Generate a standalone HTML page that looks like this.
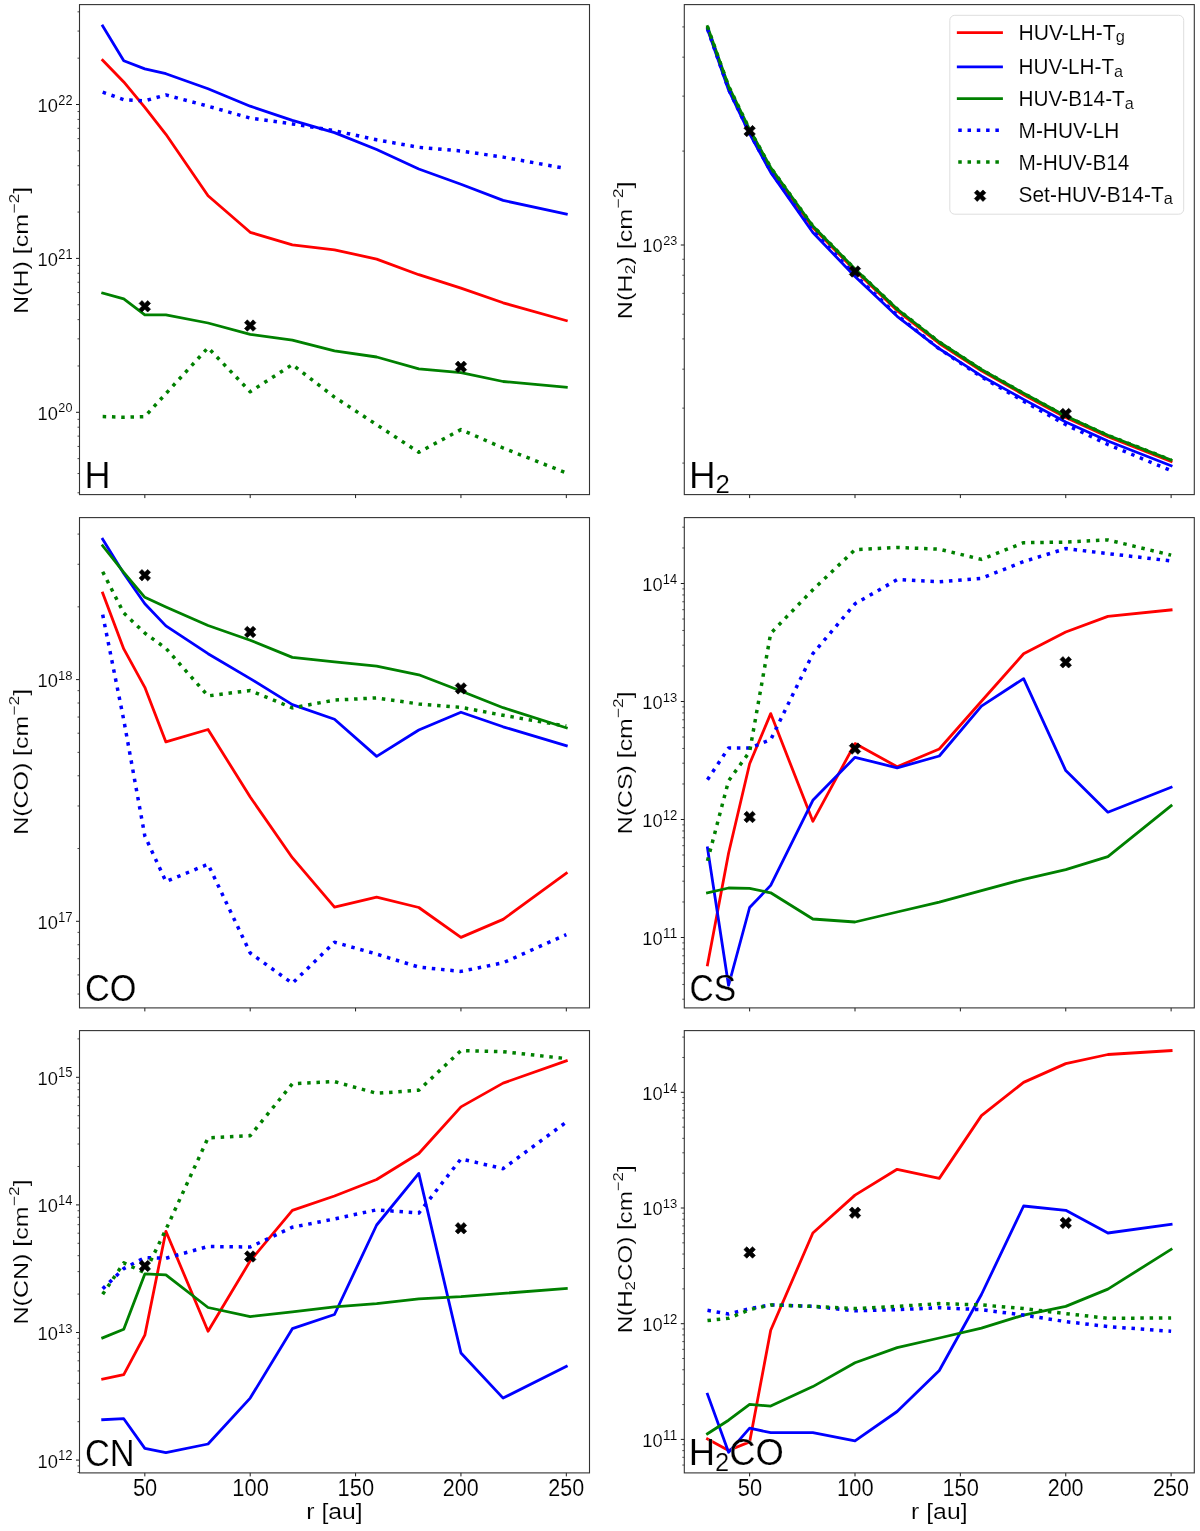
<!DOCTYPE html>
<html><head><meta charset="utf-8"><title>Column densities</title>
<style>html,body{margin:0;padding:0;background:#fff;} svg{display:block;will-change:transform;} text{font-family:"Liberation Sans", sans-serif; fill:#000; stroke:#fff; stroke-width:0.6px;}</style>
</head><body>
<svg width="1200" height="1531" viewBox="0 0 1200 1531">
<rect x="0" y="0" width="1200" height="1531" fill="#fff"/>
<clipPath id="clip_H"><rect x="79.5" y="4.6" width="510" height="490"/></clipPath>
<g clip-path="url(#clip_H)">
<polyline points="102.68,60.2 123.76,81.9 144.83,107.3 165.9,134.3 208.05,195.7 250.2,232.3 292.35,244.9 334.5,249.8 376.65,259.1 418.8,274.7 460.95,288.1 503.1,302.8 566.32,320.6" fill="none" stroke="#ff0000" stroke-width="2.8" stroke-linecap="square" stroke-linejoin="round"/>
<polyline points="102.68,26 123.76,60.7 144.83,68.9 165.9,73.7 208.05,88.8 250.2,106.2 292.35,120.3 334.5,132.6 376.65,149.5 418.8,169 460.95,184.2 503.1,200.4 566.32,214.1" fill="none" stroke="#0000ff" stroke-width="2.8" stroke-linecap="square" stroke-linejoin="round"/>
<polyline points="102.68,293.1 123.76,298.9 144.83,314.8 165.9,314.8 208.05,323 250.2,334.3 292.35,340.1 334.5,350.9 376.65,357 418.8,368.9 460.95,372.6 503.1,381.5 566.32,387.3" fill="none" stroke="#008000" stroke-width="2.8" stroke-linecap="square" stroke-linejoin="round"/>
<polyline points="102.68,92.1 123.76,99.7 144.83,100.8 165.9,94.9 208.05,106.2 250.2,118.1 292.35,123.9 334.5,130.7 376.65,139.8 418.8,147.3 460.95,151 503.1,157.1 566.32,168.6" fill="none" stroke="#0000ff" stroke-width="3.5" stroke-dasharray="3.5 5.78" stroke-linecap="butt" stroke-linejoin="round"/>
<polyline points="102.68,416.6 123.76,417.2 144.83,416.6 165.9,393.6 208.05,347.7 250.2,391.7 292.35,364.6 334.5,397.1 376.65,424.7 418.8,452.3 460.95,429.6 503.1,448 566.32,472.9" fill="none" stroke="#008000" stroke-width="3.5" stroke-dasharray="3.5 5.78" stroke-linecap="butt" stroke-linejoin="round"/>
<path d="M141.96,300.55 L144.83,303.43 L147.71,300.55 L150.58,303.43 L147.71,306.3 L150.58,309.18 L147.71,312.05 L144.83,309.18 L141.96,312.05 L139.08,309.18 L141.96,306.3 L139.08,303.43Z" fill="#000" stroke="#000" stroke-width="0.6" stroke-linejoin="miter"/>
<path d="M247.33,319.85 L250.2,322.73 L253.08,319.85 L255.95,322.73 L253.08,325.6 L255.95,328.48 L253.08,331.35 L250.2,328.48 L247.33,331.35 L244.45,328.48 L247.33,325.6 L244.45,322.73Z" fill="#000" stroke="#000" stroke-width="0.6" stroke-linejoin="miter"/>
<path d="M458.07,361.05 L460.95,363.93 L463.82,361.05 L466.7,363.93 L463.82,366.8 L466.7,369.68 L463.82,372.55 L460.95,369.68 L458.07,372.55 L455.2,369.68 L458.07,366.8 L455.2,363.93Z" fill="#000" stroke="#000" stroke-width="0.6" stroke-linejoin="miter"/>
</g>
<line x1="77.5" y1="492.77" x2="79.5" y2="492.77" stroke="#000" stroke-width="0.7"/>
<line x1="77.5" y1="473.54" x2="79.5" y2="473.54" stroke="#000" stroke-width="0.7"/>
<line x1="77.5" y1="458.63" x2="79.5" y2="458.63" stroke="#000" stroke-width="0.7"/>
<line x1="77.5" y1="446.44" x2="79.5" y2="446.44" stroke="#000" stroke-width="0.7"/>
<line x1="77.5" y1="436.14" x2="79.5" y2="436.14" stroke="#000" stroke-width="0.7"/>
<line x1="77.5" y1="427.21" x2="79.5" y2="427.21" stroke="#000" stroke-width="0.7"/>
<line x1="77.5" y1="419.34" x2="79.5" y2="419.34" stroke="#000" stroke-width="0.7"/>
<line x1="76" y1="412.3" x2="79.5" y2="412.3" stroke="#000" stroke-width="0.9"/>
<line x1="77.5" y1="365.97" x2="79.5" y2="365.97" stroke="#000" stroke-width="0.7"/>
<line x1="77.5" y1="338.87" x2="79.5" y2="338.87" stroke="#000" stroke-width="0.7"/>
<line x1="77.5" y1="319.64" x2="79.5" y2="319.64" stroke="#000" stroke-width="0.7"/>
<line x1="77.5" y1="304.73" x2="79.5" y2="304.73" stroke="#000" stroke-width="0.7"/>
<line x1="77.5" y1="292.54" x2="79.5" y2="292.54" stroke="#000" stroke-width="0.7"/>
<line x1="77.5" y1="282.24" x2="79.5" y2="282.24" stroke="#000" stroke-width="0.7"/>
<line x1="77.5" y1="273.31" x2="79.5" y2="273.31" stroke="#000" stroke-width="0.7"/>
<line x1="77.5" y1="265.44" x2="79.5" y2="265.44" stroke="#000" stroke-width="0.7"/>
<line x1="76" y1="258.4" x2="79.5" y2="258.4" stroke="#000" stroke-width="0.9"/>
<line x1="77.5" y1="212.07" x2="79.5" y2="212.07" stroke="#000" stroke-width="0.7"/>
<line x1="77.5" y1="184.97" x2="79.5" y2="184.97" stroke="#000" stroke-width="0.7"/>
<line x1="77.5" y1="165.74" x2="79.5" y2="165.74" stroke="#000" stroke-width="0.7"/>
<line x1="77.5" y1="150.83" x2="79.5" y2="150.83" stroke="#000" stroke-width="0.7"/>
<line x1="77.5" y1="138.64" x2="79.5" y2="138.64" stroke="#000" stroke-width="0.7"/>
<line x1="77.5" y1="128.34" x2="79.5" y2="128.34" stroke="#000" stroke-width="0.7"/>
<line x1="77.5" y1="119.41" x2="79.5" y2="119.41" stroke="#000" stroke-width="0.7"/>
<line x1="77.5" y1="111.54" x2="79.5" y2="111.54" stroke="#000" stroke-width="0.7"/>
<line x1="76" y1="104.5" x2="79.5" y2="104.5" stroke="#000" stroke-width="0.9"/>
<line x1="77.5" y1="58.17" x2="79.5" y2="58.17" stroke="#000" stroke-width="0.7"/>
<line x1="77.5" y1="31.07" x2="79.5" y2="31.07" stroke="#000" stroke-width="0.7"/>
<line x1="77.5" y1="11.84" x2="79.5" y2="11.84" stroke="#000" stroke-width="0.7"/>
<line x1="144.83" y1="494.6" x2="144.83" y2="498.1" stroke="#000" stroke-width="0.9"/>
<line x1="250.2" y1="494.6" x2="250.2" y2="498.1" stroke="#000" stroke-width="0.9"/>
<line x1="355.57" y1="494.6" x2="355.57" y2="498.1" stroke="#000" stroke-width="0.9"/>
<line x1="460.95" y1="494.6" x2="460.95" y2="498.1" stroke="#000" stroke-width="0.9"/>
<line x1="566.32" y1="494.6" x2="566.32" y2="498.1" stroke="#000" stroke-width="0.9"/>
<rect x="79.5" y="4.6" width="510" height="490" fill="none" stroke="#333" stroke-width="1.1"/>
<clipPath id="clip_H2"><rect x="684.3" y="4.6" width="510" height="490"/></clipPath>
<g clip-path="url(#clip_H2)">
<polyline points="707.48,28.3 728.56,87.85 749.63,131.24 770.7,169.19 812.85,227.57 855,270.4 897.15,310.59 939.3,343.48 981.45,370.9 1023.6,394.67 1065.75,417.44 1107.9,436.71 1171.12,461.5" fill="none" stroke="#ff0000" stroke-width="2.8" stroke-linecap="square" stroke-linejoin="round"/>
<polyline points="707.48,29.2 728.56,89.96 749.63,133.85 770.7,172.4 812.85,232.57 855,276.44 897.15,316.28 939.3,348.77 981.45,375.94 1023.6,399.36 1065.75,422.02 1107.9,441.05 1171.12,465.69" fill="none" stroke="#0000ff" stroke-width="2.8" stroke-linecap="square" stroke-linejoin="round"/>
<polyline points="707.48,26.5 728.56,86 749.63,129.5 770.7,167.5 812.85,226 855,269 897.15,309 939.3,342 981.45,369.5 1023.6,393.3 1065.75,416.1 1107.9,435.3 1171.12,460" fill="none" stroke="#008000" stroke-width="2.8" stroke-linecap="square" stroke-linejoin="round"/>
<polyline points="707.48,28.9 728.56,89.43 749.63,133.2 770.7,171.45 812.85,230.7 855,275.03 897.15,315.22 939.3,348.89 981.45,376.87 1023.6,401.3 1065.75,424.59 1107.9,444.53 1171.12,470.63" fill="none" stroke="#0000ff" stroke-width="3.5" stroke-dasharray="3.5 5.78" stroke-linecap="butt" stroke-linejoin="round"/>
<polyline points="707.48,26.5 728.56,86 749.63,129.5 770.7,167.5 812.85,226 855,269 897.15,309 939.3,342 981.45,369.5 1023.6,393.3 1065.75,416.1 1107.9,435.3 1171.12,460" fill="none" stroke="#008000" stroke-width="3.5" stroke-dasharray="3.5 5.78" stroke-linecap="butt" stroke-linejoin="round"/>
<path d="M746.76,125.35 L749.63,128.22 L752.51,125.35 L755.38,128.22 L752.51,131.1 L755.38,133.97 L752.51,136.85 L749.63,133.97 L746.76,136.85 L743.88,133.97 L746.76,131.1 L743.88,128.22Z" fill="#000" stroke="#000" stroke-width="0.6" stroke-linejoin="miter"/>
<path d="M852.13,265.75 L855,268.62 L857.88,265.75 L860.75,268.62 L857.88,271.5 L860.75,274.38 L857.88,277.25 L855,274.38 L852.13,277.25 L849.25,274.38 L852.13,271.5 L849.25,268.62Z" fill="#000" stroke="#000" stroke-width="0.6" stroke-linejoin="miter"/>
<path d="M1062.87,408.25 L1065.75,411.12 L1068.62,408.25 L1071.5,411.12 L1068.62,414 L1071.5,416.88 L1068.62,419.75 L1065.75,416.88 L1062.87,419.75 L1060,416.88 L1062.87,414 L1060,411.12Z" fill="#000" stroke="#000" stroke-width="0.6" stroke-linejoin="miter"/>
</g>
<line x1="682.3" y1="463.08" x2="684.3" y2="463.08" stroke="#000" stroke-width="0.7"/>
<line x1="682.3" y1="408.14" x2="684.3" y2="408.14" stroke="#000" stroke-width="0.7"/>
<line x1="682.3" y1="369.16" x2="684.3" y2="369.16" stroke="#000" stroke-width="0.7"/>
<line x1="682.3" y1="338.92" x2="684.3" y2="338.92" stroke="#000" stroke-width="0.7"/>
<line x1="682.3" y1="314.22" x2="684.3" y2="314.22" stroke="#000" stroke-width="0.7"/>
<line x1="682.3" y1="293.33" x2="684.3" y2="293.33" stroke="#000" stroke-width="0.7"/>
<line x1="682.3" y1="275.24" x2="684.3" y2="275.24" stroke="#000" stroke-width="0.7"/>
<line x1="682.3" y1="259.28" x2="684.3" y2="259.28" stroke="#000" stroke-width="0.7"/>
<line x1="680.8" y1="245" x2="684.3" y2="245" stroke="#000" stroke-width="0.9"/>
<line x1="682.3" y1="151.08" x2="684.3" y2="151.08" stroke="#000" stroke-width="0.7"/>
<line x1="682.3" y1="96.14" x2="684.3" y2="96.14" stroke="#000" stroke-width="0.7"/>
<line x1="682.3" y1="57.16" x2="684.3" y2="57.16" stroke="#000" stroke-width="0.7"/>
<line x1="682.3" y1="26.92" x2="684.3" y2="26.92" stroke="#000" stroke-width="0.7"/>
<line x1="749.63" y1="494.6" x2="749.63" y2="498.1" stroke="#000" stroke-width="0.9"/>
<line x1="855" y1="494.6" x2="855" y2="498.1" stroke="#000" stroke-width="0.9"/>
<line x1="960.37" y1="494.6" x2="960.37" y2="498.1" stroke="#000" stroke-width="0.9"/>
<line x1="1065.75" y1="494.6" x2="1065.75" y2="498.1" stroke="#000" stroke-width="0.9"/>
<line x1="1171.12" y1="494.6" x2="1171.12" y2="498.1" stroke="#000" stroke-width="0.9"/>
<rect x="684.3" y="4.6" width="510" height="490" fill="none" stroke="#333" stroke-width="1.1"/>
<clipPath id="clip_CO"><rect x="79.5" y="517.6" width="510" height="490.3"/></clipPath>
<g clip-path="url(#clip_CO)">
<polyline points="102.68,593 123.76,648.9 144.83,687.3 165.9,741.9 208.05,729.5 250.2,797 292.35,857.7 334.5,907.1 376.65,897.1 418.8,907.5 460.95,937.4 503.1,919.4 566.32,873.3" fill="none" stroke="#ff0000" stroke-width="2.8" stroke-linecap="square" stroke-linejoin="round"/>
<polyline points="102.68,539.3 123.76,573.5 144.83,603.8 165.9,625.9 208.05,653.7 250.2,678.6 292.35,704.6 334.5,719.2 376.65,756.4 418.8,730 460.95,712.2 503.1,726.8 566.32,745.8" fill="none" stroke="#0000ff" stroke-width="2.8" stroke-linecap="square" stroke-linejoin="round"/>
<polyline points="102.68,545.8 123.76,572.4 144.83,597.3 165.9,606.9 208.05,625.5 250.2,640.2 292.35,657.4 334.5,661.9 376.65,666.1 418.8,674.8 460.95,691 503.1,707.7 566.32,727.8" fill="none" stroke="#008000" stroke-width="2.8" stroke-linecap="square" stroke-linejoin="round"/>
<polyline points="102.68,614.7 123.76,720 144.83,836 165.9,881.5 208.05,864.2 250.2,953 292.35,983.3 334.5,942.2 376.65,954.1 418.8,967.1 460.95,971.4 503.1,962.8 566.32,934.6" fill="none" stroke="#0000ff" stroke-width="3.5" stroke-dasharray="3.5 5.78" stroke-linecap="butt" stroke-linejoin="round"/>
<polyline points="102.68,571.8 123.76,613 144.83,633.1 165.9,648.3 208.05,695.9 250.2,690.5 292.35,707.9 334.5,700.1 376.65,697.9 418.8,704 460.95,707.3 503.1,715.3 566.32,726.1" fill="none" stroke="#008000" stroke-width="3.5" stroke-dasharray="3.5 5.78" stroke-linecap="butt" stroke-linejoin="round"/>
<path d="M141.96,569.45 L144.83,572.33 L147.71,569.45 L150.58,572.33 L147.71,575.2 L150.58,578.08 L147.71,580.95 L144.83,578.08 L141.96,580.95 L139.08,578.08 L141.96,575.2 L139.08,572.33Z" fill="#000" stroke="#000" stroke-width="0.6" stroke-linejoin="miter"/>
<path d="M247.33,626.25 L250.2,629.12 L253.08,626.25 L255.95,629.12 L253.08,632 L255.95,634.88 L253.08,637.75 L250.2,634.88 L247.33,637.75 L244.45,634.88 L247.33,632 L244.45,629.12Z" fill="#000" stroke="#000" stroke-width="0.6" stroke-linejoin="miter"/>
<path d="M458.07,682.65 L460.95,685.52 L463.82,682.65 L466.7,685.52 L463.82,688.4 L466.7,691.27 L463.82,694.15 L460.95,691.27 L458.07,694.15 L455.2,691.27 L458.07,688.4 L455.2,685.52Z" fill="#000" stroke="#000" stroke-width="0.6" stroke-linejoin="miter"/>
</g>
<line x1="77.5" y1="994.06" x2="79.5" y2="994.06" stroke="#000" stroke-width="0.7"/>
<line x1="77.5" y1="974.92" x2="79.5" y2="974.92" stroke="#000" stroke-width="0.7"/>
<line x1="77.5" y1="958.74" x2="79.5" y2="958.74" stroke="#000" stroke-width="0.7"/>
<line x1="77.5" y1="944.72" x2="79.5" y2="944.72" stroke="#000" stroke-width="0.7"/>
<line x1="77.5" y1="932.36" x2="79.5" y2="932.36" stroke="#000" stroke-width="0.7"/>
<line x1="76" y1="921.3" x2="79.5" y2="921.3" stroke="#000" stroke-width="0.9"/>
<line x1="77.5" y1="848.54" x2="79.5" y2="848.54" stroke="#000" stroke-width="0.7"/>
<line x1="77.5" y1="805.98" x2="79.5" y2="805.98" stroke="#000" stroke-width="0.7"/>
<line x1="77.5" y1="775.78" x2="79.5" y2="775.78" stroke="#000" stroke-width="0.7"/>
<line x1="77.5" y1="752.36" x2="79.5" y2="752.36" stroke="#000" stroke-width="0.7"/>
<line x1="77.5" y1="733.22" x2="79.5" y2="733.22" stroke="#000" stroke-width="0.7"/>
<line x1="77.5" y1="717.04" x2="79.5" y2="717.04" stroke="#000" stroke-width="0.7"/>
<line x1="77.5" y1="703.02" x2="79.5" y2="703.02" stroke="#000" stroke-width="0.7"/>
<line x1="77.5" y1="690.66" x2="79.5" y2="690.66" stroke="#000" stroke-width="0.7"/>
<line x1="76" y1="679.6" x2="79.5" y2="679.6" stroke="#000" stroke-width="0.9"/>
<line x1="77.5" y1="606.84" x2="79.5" y2="606.84" stroke="#000" stroke-width="0.7"/>
<line x1="77.5" y1="564.28" x2="79.5" y2="564.28" stroke="#000" stroke-width="0.7"/>
<line x1="77.5" y1="534.08" x2="79.5" y2="534.08" stroke="#000" stroke-width="0.7"/>
<line x1="144.83" y1="1007.9" x2="144.83" y2="1011.4" stroke="#000" stroke-width="0.9"/>
<line x1="250.2" y1="1007.9" x2="250.2" y2="1011.4" stroke="#000" stroke-width="0.9"/>
<line x1="355.57" y1="1007.9" x2="355.57" y2="1011.4" stroke="#000" stroke-width="0.9"/>
<line x1="460.95" y1="1007.9" x2="460.95" y2="1011.4" stroke="#000" stroke-width="0.9"/>
<line x1="566.32" y1="1007.9" x2="566.32" y2="1011.4" stroke="#000" stroke-width="0.9"/>
<rect x="79.5" y="517.6" width="510" height="490.3" fill="none" stroke="#333" stroke-width="1.1"/>
<clipPath id="clip_CS"><rect x="684.3" y="517.6" width="510" height="490.3"/></clipPath>
<g clip-path="url(#clip_CS)">
<polyline points="707.48,964.9 728.56,853.3 749.63,763.7 770.7,713.6 812.85,821.3 855,743.6 897.15,766.7 939.3,749 981.45,701.3 1023.6,653.7 1065.75,632 1107.9,616.4 1171.12,609.9" fill="none" stroke="#ff0000" stroke-width="2.8" stroke-linecap="square" stroke-linejoin="round"/>
<polyline points="707.48,847.9 728.56,985.5 749.63,907.5 770.7,885.4 812.85,800.3 855,757.3 897.15,767.8 939.3,756 981.45,706.1 1023.6,678.6 1065.75,770.6 1107.9,812.2 1171.12,787.3" fill="none" stroke="#0000ff" stroke-width="2.8" stroke-linecap="square" stroke-linejoin="round"/>
<polyline points="707.48,892.8 728.56,888 749.63,888.4 770.7,892.8 812.85,919 855,922 897.15,912 939.3,902.1 981.45,890.6 1023.6,879.3 1065.75,869.6 1107.9,856.6 1171.12,805.7" fill="none" stroke="#008000" stroke-width="2.8" stroke-linecap="square" stroke-linejoin="round"/>
<polyline points="707.48,779.7 728.56,748 749.63,748 770.7,739.7 812.85,653.7 855,603.8 897.15,579.6 939.3,581.7 981.45,578.3 1023.6,561.6 1065.75,548.6 1107.9,553.6 1171.12,560.9" fill="none" stroke="#0000ff" stroke-width="3.5" stroke-dasharray="3.5 5.78" stroke-linecap="butt" stroke-linejoin="round"/>
<polyline points="707.48,860.9 728.56,780.8 749.63,751.7 770.7,633.3 812.85,589.8 855,549.7 897.15,547.5 939.3,549.2 981.45,559.4 1023.6,542.7 1065.75,542.1 1107.9,539.9 1171.12,555.1" fill="none" stroke="#008000" stroke-width="3.5" stroke-dasharray="3.5 5.78" stroke-linecap="butt" stroke-linejoin="round"/>
<path d="M746.76,811.25 L749.63,814.12 L752.51,811.25 L755.38,814.12 L752.51,817 L755.38,819.88 L752.51,822.75 L749.63,819.88 L746.76,822.75 L743.88,819.88 L746.76,817 L743.88,814.12Z" fill="#000" stroke="#000" stroke-width="0.6" stroke-linejoin="miter"/>
<path d="M852.13,742.85 L855,745.73 L857.88,742.85 L860.75,745.73 L857.88,748.6 L860.75,751.48 L857.88,754.35 L855,751.48 L852.13,754.35 L849.25,751.48 L852.13,748.6 L849.25,745.73Z" fill="#000" stroke="#000" stroke-width="0.6" stroke-linejoin="miter"/>
<path d="M1062.87,656.55 L1065.75,659.42 L1068.62,656.55 L1071.5,659.42 L1068.62,662.3 L1071.5,665.17 L1068.62,668.05 L1065.75,665.17 L1062.87,668.05 L1060,665.17 L1062.87,662.3 L1060,659.42Z" fill="#000" stroke="#000" stroke-width="0.6" stroke-linejoin="miter"/>
</g>
<line x1="682.3" y1="999.2" x2="684.3" y2="999.2" stroke="#000" stroke-width="0.7"/>
<line x1="682.3" y1="984.46" x2="684.3" y2="984.46" stroke="#000" stroke-width="0.7"/>
<line x1="682.3" y1="973.02" x2="684.3" y2="973.02" stroke="#000" stroke-width="0.7"/>
<line x1="682.3" y1="963.68" x2="684.3" y2="963.68" stroke="#000" stroke-width="0.7"/>
<line x1="682.3" y1="955.78" x2="684.3" y2="955.78" stroke="#000" stroke-width="0.7"/>
<line x1="682.3" y1="948.94" x2="684.3" y2="948.94" stroke="#000" stroke-width="0.7"/>
<line x1="682.3" y1="942.9" x2="684.3" y2="942.9" stroke="#000" stroke-width="0.7"/>
<line x1="680.8" y1="937.5" x2="684.3" y2="937.5" stroke="#000" stroke-width="0.9"/>
<line x1="682.3" y1="901.98" x2="684.3" y2="901.98" stroke="#000" stroke-width="0.7"/>
<line x1="682.3" y1="881.2" x2="684.3" y2="881.2" stroke="#000" stroke-width="0.7"/>
<line x1="682.3" y1="866.46" x2="684.3" y2="866.46" stroke="#000" stroke-width="0.7"/>
<line x1="682.3" y1="855.02" x2="684.3" y2="855.02" stroke="#000" stroke-width="0.7"/>
<line x1="682.3" y1="845.68" x2="684.3" y2="845.68" stroke="#000" stroke-width="0.7"/>
<line x1="682.3" y1="837.78" x2="684.3" y2="837.78" stroke="#000" stroke-width="0.7"/>
<line x1="682.3" y1="830.94" x2="684.3" y2="830.94" stroke="#000" stroke-width="0.7"/>
<line x1="682.3" y1="824.9" x2="684.3" y2="824.9" stroke="#000" stroke-width="0.7"/>
<line x1="680.8" y1="819.5" x2="684.3" y2="819.5" stroke="#000" stroke-width="0.9"/>
<line x1="682.3" y1="783.98" x2="684.3" y2="783.98" stroke="#000" stroke-width="0.7"/>
<line x1="682.3" y1="763.2" x2="684.3" y2="763.2" stroke="#000" stroke-width="0.7"/>
<line x1="682.3" y1="748.46" x2="684.3" y2="748.46" stroke="#000" stroke-width="0.7"/>
<line x1="682.3" y1="737.02" x2="684.3" y2="737.02" stroke="#000" stroke-width="0.7"/>
<line x1="682.3" y1="727.68" x2="684.3" y2="727.68" stroke="#000" stroke-width="0.7"/>
<line x1="682.3" y1="719.78" x2="684.3" y2="719.78" stroke="#000" stroke-width="0.7"/>
<line x1="682.3" y1="712.94" x2="684.3" y2="712.94" stroke="#000" stroke-width="0.7"/>
<line x1="682.3" y1="706.9" x2="684.3" y2="706.9" stroke="#000" stroke-width="0.7"/>
<line x1="680.8" y1="701.5" x2="684.3" y2="701.5" stroke="#000" stroke-width="0.9"/>
<line x1="682.3" y1="665.98" x2="684.3" y2="665.98" stroke="#000" stroke-width="0.7"/>
<line x1="682.3" y1="645.2" x2="684.3" y2="645.2" stroke="#000" stroke-width="0.7"/>
<line x1="682.3" y1="630.46" x2="684.3" y2="630.46" stroke="#000" stroke-width="0.7"/>
<line x1="682.3" y1="619.02" x2="684.3" y2="619.02" stroke="#000" stroke-width="0.7"/>
<line x1="682.3" y1="609.68" x2="684.3" y2="609.68" stroke="#000" stroke-width="0.7"/>
<line x1="682.3" y1="601.78" x2="684.3" y2="601.78" stroke="#000" stroke-width="0.7"/>
<line x1="682.3" y1="594.94" x2="684.3" y2="594.94" stroke="#000" stroke-width="0.7"/>
<line x1="682.3" y1="588.9" x2="684.3" y2="588.9" stroke="#000" stroke-width="0.7"/>
<line x1="680.8" y1="583.5" x2="684.3" y2="583.5" stroke="#000" stroke-width="0.9"/>
<line x1="682.3" y1="547.98" x2="684.3" y2="547.98" stroke="#000" stroke-width="0.7"/>
<line x1="682.3" y1="527.2" x2="684.3" y2="527.2" stroke="#000" stroke-width="0.7"/>
<line x1="749.63" y1="1007.9" x2="749.63" y2="1011.4" stroke="#000" stroke-width="0.9"/>
<line x1="855" y1="1007.9" x2="855" y2="1011.4" stroke="#000" stroke-width="0.9"/>
<line x1="960.37" y1="1007.9" x2="960.37" y2="1011.4" stroke="#000" stroke-width="0.9"/>
<line x1="1065.75" y1="1007.9" x2="1065.75" y2="1011.4" stroke="#000" stroke-width="0.9"/>
<line x1="1171.12" y1="1007.9" x2="1171.12" y2="1011.4" stroke="#000" stroke-width="0.9"/>
<rect x="684.3" y="517.6" width="510" height="490.3" fill="none" stroke="#333" stroke-width="1.1"/>
<clipPath id="clip_CN"><rect x="79.5" y="1030.6" width="510" height="442.3"/></clipPath>
<g clip-path="url(#clip_CN)">
<polyline points="102.68,1379 123.76,1374.7 144.83,1335.2 165.9,1231.3 208.05,1331.3 250.2,1260.9 292.35,1210.3 334.5,1196 376.65,1179.5 418.8,1153.5 460.95,1106.9 503.1,1083.1 566.32,1060.8" fill="none" stroke="#ff0000" stroke-width="2.8" stroke-linecap="square" stroke-linejoin="round"/>
<polyline points="102.68,1419.7 123.76,1418.7 144.83,1448.4 165.9,1452.7 208.05,1444 250.2,1398.1 292.35,1328.7 334.5,1314.5 376.65,1225 418.8,1173.4 460.95,1353 503.1,1398.1 566.32,1366.4" fill="none" stroke="#0000ff" stroke-width="2.8" stroke-linecap="square" stroke-linejoin="round"/>
<polyline points="102.68,1337.8 123.76,1329.2 144.83,1273.9 165.9,1274.8 208.05,1307.5 250.2,1316.6 292.35,1311.8 334.5,1306.8 376.65,1303.6 418.8,1298.8 460.95,1296.7 503.1,1293.4 566.32,1288.4" fill="none" stroke="#008000" stroke-width="2.8" stroke-linecap="square" stroke-linejoin="round"/>
<polyline points="102.68,1288.8 123.76,1268.6 144.83,1257.6 165.9,1258.3 208.05,1246.5 250.2,1247 292.35,1227.2 334.5,1219 376.65,1209.8 418.8,1213.1 460.95,1158.9 503.1,1168.7 566.32,1122.1" fill="none" stroke="#0000ff" stroke-width="3.5" stroke-dasharray="3.5 5.78" stroke-linecap="butt" stroke-linejoin="round"/>
<polyline points="102.68,1294.3 123.76,1262.9 144.83,1272.8 165.9,1229.5 208.05,1137.9 250.2,1135.7 292.35,1083.7 334.5,1081.6 376.65,1093.3 418.8,1090.2 460.95,1050.6 503.1,1051.7 566.32,1058.6" fill="none" stroke="#008000" stroke-width="3.5" stroke-dasharray="3.5 5.78" stroke-linecap="butt" stroke-linejoin="round"/>
<path d="M141.96,1260.25 L144.83,1263.12 L147.71,1260.25 L150.58,1263.12 L147.71,1266 L150.58,1268.88 L147.71,1271.75 L144.83,1268.88 L141.96,1271.75 L139.08,1268.88 L141.96,1266 L139.08,1263.12Z" fill="#000" stroke="#000" stroke-width="0.6" stroke-linejoin="miter"/>
<path d="M247.33,1250.75 L250.2,1253.62 L253.08,1250.75 L255.95,1253.62 L253.08,1256.5 L255.95,1259.38 L253.08,1262.25 L250.2,1259.38 L247.33,1262.25 L244.45,1259.38 L247.33,1256.5 L244.45,1253.62Z" fill="#000" stroke="#000" stroke-width="0.6" stroke-linejoin="miter"/>
<path d="M458.07,1222.55 L460.95,1225.42 L463.82,1222.55 L466.7,1225.42 L463.82,1228.3 L466.7,1231.17 L463.82,1234.05 L460.95,1231.17 L458.07,1234.05 L455.2,1231.17 L458.07,1228.3 L455.2,1225.42Z" fill="#000" stroke="#000" stroke-width="0.6" stroke-linejoin="miter"/>
</g>
<line x1="77.5" y1="1472.47" x2="79.5" y2="1472.47" stroke="#000" stroke-width="0.7"/>
<line x1="77.5" y1="1465.94" x2="79.5" y2="1465.94" stroke="#000" stroke-width="0.7"/>
<line x1="76" y1="1460.1" x2="79.5" y2="1460.1" stroke="#000" stroke-width="0.9"/>
<line x1="77.5" y1="1421.69" x2="79.5" y2="1421.69" stroke="#000" stroke-width="0.7"/>
<line x1="77.5" y1="1399.22" x2="79.5" y2="1399.22" stroke="#000" stroke-width="0.7"/>
<line x1="77.5" y1="1383.28" x2="79.5" y2="1383.28" stroke="#000" stroke-width="0.7"/>
<line x1="77.5" y1="1370.91" x2="79.5" y2="1370.91" stroke="#000" stroke-width="0.7"/>
<line x1="77.5" y1="1360.81" x2="79.5" y2="1360.81" stroke="#000" stroke-width="0.7"/>
<line x1="77.5" y1="1352.27" x2="79.5" y2="1352.27" stroke="#000" stroke-width="0.7"/>
<line x1="77.5" y1="1344.87" x2="79.5" y2="1344.87" stroke="#000" stroke-width="0.7"/>
<line x1="77.5" y1="1338.34" x2="79.5" y2="1338.34" stroke="#000" stroke-width="0.7"/>
<line x1="76" y1="1332.5" x2="79.5" y2="1332.5" stroke="#000" stroke-width="0.9"/>
<line x1="77.5" y1="1294.09" x2="79.5" y2="1294.09" stroke="#000" stroke-width="0.7"/>
<line x1="77.5" y1="1271.62" x2="79.5" y2="1271.62" stroke="#000" stroke-width="0.7"/>
<line x1="77.5" y1="1255.68" x2="79.5" y2="1255.68" stroke="#000" stroke-width="0.7"/>
<line x1="77.5" y1="1243.31" x2="79.5" y2="1243.31" stroke="#000" stroke-width="0.7"/>
<line x1="77.5" y1="1233.21" x2="79.5" y2="1233.21" stroke="#000" stroke-width="0.7"/>
<line x1="77.5" y1="1224.67" x2="79.5" y2="1224.67" stroke="#000" stroke-width="0.7"/>
<line x1="77.5" y1="1217.27" x2="79.5" y2="1217.27" stroke="#000" stroke-width="0.7"/>
<line x1="77.5" y1="1210.74" x2="79.5" y2="1210.74" stroke="#000" stroke-width="0.7"/>
<line x1="76" y1="1204.9" x2="79.5" y2="1204.9" stroke="#000" stroke-width="0.9"/>
<line x1="77.5" y1="1166.49" x2="79.5" y2="1166.49" stroke="#000" stroke-width="0.7"/>
<line x1="77.5" y1="1144.02" x2="79.5" y2="1144.02" stroke="#000" stroke-width="0.7"/>
<line x1="77.5" y1="1128.08" x2="79.5" y2="1128.08" stroke="#000" stroke-width="0.7"/>
<line x1="77.5" y1="1115.71" x2="79.5" y2="1115.71" stroke="#000" stroke-width="0.7"/>
<line x1="77.5" y1="1105.61" x2="79.5" y2="1105.61" stroke="#000" stroke-width="0.7"/>
<line x1="77.5" y1="1097.07" x2="79.5" y2="1097.07" stroke="#000" stroke-width="0.7"/>
<line x1="77.5" y1="1089.67" x2="79.5" y2="1089.67" stroke="#000" stroke-width="0.7"/>
<line x1="77.5" y1="1083.14" x2="79.5" y2="1083.14" stroke="#000" stroke-width="0.7"/>
<line x1="76" y1="1077.3" x2="79.5" y2="1077.3" stroke="#000" stroke-width="0.9"/>
<line x1="77.5" y1="1038.89" x2="79.5" y2="1038.89" stroke="#000" stroke-width="0.7"/>
<line x1="144.83" y1="1472.9" x2="144.83" y2="1476.4" stroke="#000" stroke-width="0.9"/>
<line x1="250.2" y1="1472.9" x2="250.2" y2="1476.4" stroke="#000" stroke-width="0.9"/>
<line x1="355.57" y1="1472.9" x2="355.57" y2="1476.4" stroke="#000" stroke-width="0.9"/>
<line x1="460.95" y1="1472.9" x2="460.95" y2="1476.4" stroke="#000" stroke-width="0.9"/>
<line x1="566.32" y1="1472.9" x2="566.32" y2="1476.4" stroke="#000" stroke-width="0.9"/>
<rect x="79.5" y="1030.6" width="510" height="442.3" fill="none" stroke="#333" stroke-width="1.1"/>
<clipPath id="clip_H2CO"><rect x="684.3" y="1030.6" width="510" height="442.3"/></clipPath>
<g clip-path="url(#clip_H2CO)">
<polyline points="707.48,1439 728.56,1450.5 749.63,1441.9 770.7,1330.3 812.85,1233 855,1195.1 897.15,1169.3 939.3,1178.4 981.45,1115.6 1023.6,1082.4 1065.75,1063.6 1107.9,1054.5 1171.12,1050.6" fill="none" stroke="#ff0000" stroke-width="2.8" stroke-linecap="square" stroke-linejoin="round"/>
<polyline points="707.48,1394.2 728.56,1452.3 749.63,1428.2 770.7,1432.7 812.85,1432.7 855,1440.8 897.15,1411.5 939.3,1370.5 981.45,1294.5 1023.6,1206 1065.75,1210.3 1107.9,1233 1171.12,1224.4" fill="none" stroke="#0000ff" stroke-width="2.8" stroke-linecap="square" stroke-linejoin="round"/>
<polyline points="707.48,1433.8 728.56,1420.2 749.63,1404.4 770.7,1406.1 812.85,1386.6 855,1362.8 897.15,1347.6 939.3,1338 981.45,1328.1 1023.6,1315.1 1065.75,1306.4 1107.9,1289.1 1171.12,1249.4" fill="none" stroke="#008000" stroke-width="2.8" stroke-linecap="square" stroke-linejoin="round"/>
<polyline points="707.48,1310.3 728.56,1314 749.63,1308.6 770.7,1304.9 812.85,1306.4 855,1310.8 897.15,1309.7 939.3,1307.7 981.45,1309.7 1023.6,1315.1 1065.75,1321.6 1107.9,1326.6 1171.12,1331.3" fill="none" stroke="#0000ff" stroke-width="3.5" stroke-dasharray="3.5 5.78" stroke-linecap="butt" stroke-linejoin="round"/>
<polyline points="707.48,1320.5 728.56,1318.3 749.63,1309.7 770.7,1304.9 812.85,1306.4 855,1308.6 897.15,1306.4 939.3,1303.6 981.45,1304.9 1023.6,1308.6 1065.75,1313.6 1107.9,1318.3 1171.12,1317.9" fill="none" stroke="#008000" stroke-width="3.5" stroke-dasharray="3.5 5.78" stroke-linecap="butt" stroke-linejoin="round"/>
<path d="M746.76,1246.75 L749.63,1249.62 L752.51,1246.75 L755.38,1249.62 L752.51,1252.5 L755.38,1255.38 L752.51,1258.25 L749.63,1255.38 L746.76,1258.25 L743.88,1255.38 L746.76,1252.5 L743.88,1249.62Z" fill="#000" stroke="#000" stroke-width="0.6" stroke-linejoin="miter"/>
<path d="M852.13,1206.95 L855,1209.83 L857.88,1206.95 L860.75,1209.83 L857.88,1212.7 L860.75,1215.58 L857.88,1218.45 L855,1215.58 L852.13,1218.45 L849.25,1215.58 L852.13,1212.7 L849.25,1209.83Z" fill="#000" stroke="#000" stroke-width="0.6" stroke-linejoin="miter"/>
<path d="M1062.87,1217.15 L1065.75,1220.03 L1068.62,1217.15 L1071.5,1220.03 L1068.62,1222.9 L1071.5,1225.78 L1068.62,1228.65 L1065.75,1225.78 L1062.87,1228.65 L1060,1225.78 L1062.87,1222.9 L1060,1220.03Z" fill="#000" stroke="#000" stroke-width="0.6" stroke-linejoin="miter"/>
</g>
<line x1="682.3" y1="1465.07" x2="684.3" y2="1465.07" stroke="#000" stroke-width="0.7"/>
<line x1="682.3" y1="1457.32" x2="684.3" y2="1457.32" stroke="#000" stroke-width="0.7"/>
<line x1="682.3" y1="1450.61" x2="684.3" y2="1450.61" stroke="#000" stroke-width="0.7"/>
<line x1="682.3" y1="1444.69" x2="684.3" y2="1444.69" stroke="#000" stroke-width="0.7"/>
<line x1="680.8" y1="1439.4" x2="684.3" y2="1439.4" stroke="#000" stroke-width="0.9"/>
<line x1="682.3" y1="1404.57" x2="684.3" y2="1404.57" stroke="#000" stroke-width="0.7"/>
<line x1="682.3" y1="1384.2" x2="684.3" y2="1384.2" stroke="#000" stroke-width="0.7"/>
<line x1="682.3" y1="1369.74" x2="684.3" y2="1369.74" stroke="#000" stroke-width="0.7"/>
<line x1="682.3" y1="1358.53" x2="684.3" y2="1358.53" stroke="#000" stroke-width="0.7"/>
<line x1="682.3" y1="1349.37" x2="684.3" y2="1349.37" stroke="#000" stroke-width="0.7"/>
<line x1="682.3" y1="1341.62" x2="684.3" y2="1341.62" stroke="#000" stroke-width="0.7"/>
<line x1="682.3" y1="1334.91" x2="684.3" y2="1334.91" stroke="#000" stroke-width="0.7"/>
<line x1="682.3" y1="1328.99" x2="684.3" y2="1328.99" stroke="#000" stroke-width="0.7"/>
<line x1="680.8" y1="1323.7" x2="684.3" y2="1323.7" stroke="#000" stroke-width="0.9"/>
<line x1="682.3" y1="1288.87" x2="684.3" y2="1288.87" stroke="#000" stroke-width="0.7"/>
<line x1="682.3" y1="1268.5" x2="684.3" y2="1268.5" stroke="#000" stroke-width="0.7"/>
<line x1="682.3" y1="1254.04" x2="684.3" y2="1254.04" stroke="#000" stroke-width="0.7"/>
<line x1="682.3" y1="1242.83" x2="684.3" y2="1242.83" stroke="#000" stroke-width="0.7"/>
<line x1="682.3" y1="1233.67" x2="684.3" y2="1233.67" stroke="#000" stroke-width="0.7"/>
<line x1="682.3" y1="1225.92" x2="684.3" y2="1225.92" stroke="#000" stroke-width="0.7"/>
<line x1="682.3" y1="1219.21" x2="684.3" y2="1219.21" stroke="#000" stroke-width="0.7"/>
<line x1="682.3" y1="1213.29" x2="684.3" y2="1213.29" stroke="#000" stroke-width="0.7"/>
<line x1="680.8" y1="1208" x2="684.3" y2="1208" stroke="#000" stroke-width="0.9"/>
<line x1="682.3" y1="1173.17" x2="684.3" y2="1173.17" stroke="#000" stroke-width="0.7"/>
<line x1="682.3" y1="1152.8" x2="684.3" y2="1152.8" stroke="#000" stroke-width="0.7"/>
<line x1="682.3" y1="1138.34" x2="684.3" y2="1138.34" stroke="#000" stroke-width="0.7"/>
<line x1="682.3" y1="1127.13" x2="684.3" y2="1127.13" stroke="#000" stroke-width="0.7"/>
<line x1="682.3" y1="1117.97" x2="684.3" y2="1117.97" stroke="#000" stroke-width="0.7"/>
<line x1="682.3" y1="1110.22" x2="684.3" y2="1110.22" stroke="#000" stroke-width="0.7"/>
<line x1="682.3" y1="1103.51" x2="684.3" y2="1103.51" stroke="#000" stroke-width="0.7"/>
<line x1="682.3" y1="1097.59" x2="684.3" y2="1097.59" stroke="#000" stroke-width="0.7"/>
<line x1="680.8" y1="1092.3" x2="684.3" y2="1092.3" stroke="#000" stroke-width="0.9"/>
<line x1="682.3" y1="1057.47" x2="684.3" y2="1057.47" stroke="#000" stroke-width="0.7"/>
<line x1="682.3" y1="1037.1" x2="684.3" y2="1037.1" stroke="#000" stroke-width="0.7"/>
<line x1="749.63" y1="1472.9" x2="749.63" y2="1476.4" stroke="#000" stroke-width="0.9"/>
<line x1="855" y1="1472.9" x2="855" y2="1476.4" stroke="#000" stroke-width="0.9"/>
<line x1="960.37" y1="1472.9" x2="960.37" y2="1476.4" stroke="#000" stroke-width="0.9"/>
<line x1="1065.75" y1="1472.9" x2="1065.75" y2="1476.4" stroke="#000" stroke-width="0.9"/>
<line x1="1171.12" y1="1472.9" x2="1171.12" y2="1476.4" stroke="#000" stroke-width="0.9"/>
<rect x="684.3" y="1030.6" width="510" height="442.3" fill="none" stroke="#333" stroke-width="1.1"/>
<rect x="949.8" y="15.3" width="233.9" height="198.9" rx="5" ry="5" fill="#fff" fill-opacity="0.8" stroke="#dedede" stroke-width="1"/>
<line x1="958.25" y1="32.6" x2="1001.5" y2="32.6" stroke="#ff0000" stroke-width="2.8" stroke-linecap="square"/>
<line x1="958.25" y1="66.9" x2="1001.5" y2="66.9" stroke="#0000ff" stroke-width="2.8" stroke-linecap="square"/>
<line x1="958.25" y1="98.6" x2="1001.5" y2="98.6" stroke="#008000" stroke-width="2.8" stroke-linecap="square"/>
<line x1="958.25" y1="130.3" x2="1003.0" y2="130.3" stroke="#0000ff" stroke-width="3.5" stroke-dasharray="3.5 5.78"/>
<line x1="958.25" y1="161.9" x2="1003.0" y2="161.9" stroke="#008000" stroke-width="3.5" stroke-dasharray="3.5 5.78"/>
<path d="M977.23,189.95 L980.1,192.82 L982.98,189.95 L985.85,192.82 L982.98,195.7 L985.85,198.57 L982.98,201.45 L980.1,198.57 L977.23,201.45 L974.35,198.57 L977.23,195.7 L974.35,192.82Z" fill="#000" stroke="#000" stroke-width="0.6" stroke-linejoin="miter"/>
<text transform="matrix(0.18283,0,0,0.19155,37.537,419.708)" font-size="100">10</text>
<text transform="matrix(0.12647,0,0,0.13521,58.368,412.465)" font-size="100">20</text>
<text transform="matrix(0.18283,0,0,0.19155,37.537,265.808)" font-size="100">10</text>
<text transform="matrix(0.12772,0,0,0.13714,58.361,258.700)" font-size="100">21</text>
<text transform="matrix(0.18283,0,0,0.19155,37.537,111.908)" font-size="100">10</text>
<text transform="matrix(0.12772,0,0,0.13714,58.361,104.800)" font-size="100">22</text>
<text transform="matrix(0.18283,0,0,0.19155,642.337,252.408)" font-size="100">10</text>
<text transform="matrix(0.12647,0,0,0.13521,663.168,245.165)" font-size="100">23</text>
<text transform="matrix(0.18283,0,0,0.19155,37.537,928.708)" font-size="100">10</text>
<text transform="matrix(0.13163,0,0,0.13714,57.947,921.600)" font-size="100">17</text>
<text transform="matrix(0.18283,0,0,0.19155,37.537,687.008)" font-size="100">10</text>
<text transform="matrix(0.13030,0,0,0.13521,57.958,679.765)" font-size="100">18</text>
<text transform="matrix(0.18283,0,0,0.19155,642.337,944.908)" font-size="100">10</text>
<text transform="matrix(0.14176,0,0,0.13913,662.666,937.800)" font-size="100">11</text>
<text transform="matrix(0.18283,0,0,0.19155,642.337,826.908)" font-size="100">10</text>
<text transform="matrix(0.13163,0,0,0.13714,662.747,819.800)" font-size="100">12</text>
<text transform="matrix(0.18283,0,0,0.19155,642.337,708.908)" font-size="100">10</text>
<text transform="matrix(0.13030,0,0,0.13521,662.758,701.665)" font-size="100">13</text>
<text transform="matrix(0.18283,0,0,0.19155,642.337,590.908)" font-size="100">10</text>
<text transform="matrix(0.12900,0,0,0.13714,662.768,583.800)" font-size="100">14</text>
<text transform="matrix(0.18283,0,0,0.19155,37.537,1467.508)" font-size="100">10</text>
<text transform="matrix(0.13163,0,0,0.13714,57.947,1460.400)" font-size="100">12</text>
<text transform="matrix(0.18283,0,0,0.19155,37.537,1339.908)" font-size="100">10</text>
<text transform="matrix(0.13030,0,0,0.13521,57.958,1332.665)" font-size="100">13</text>
<text transform="matrix(0.18283,0,0,0.19155,37.537,1212.308)" font-size="100">10</text>
<text transform="matrix(0.12900,0,0,0.13714,57.968,1205.200)" font-size="100">14</text>
<text transform="matrix(0.18283,0,0,0.19155,37.537,1084.708)" font-size="100">10</text>
<text transform="matrix(0.13030,0,0,0.13714,57.958,1077.463)" font-size="100">15</text>
<text transform="matrix(0.18283,0,0,0.19155,642.337,1446.808)" font-size="100">10</text>
<text transform="matrix(0.14176,0,0,0.13913,662.666,1439.700)" font-size="100">11</text>
<text transform="matrix(0.18283,0,0,0.19155,642.337,1331.108)" font-size="100">10</text>
<text transform="matrix(0.13163,0,0,0.13714,662.747,1324.000)" font-size="100">12</text>
<text transform="matrix(0.18283,0,0,0.19155,642.337,1215.408)" font-size="100">10</text>
<text transform="matrix(0.13030,0,0,0.13521,662.758,1208.165)" font-size="100">13</text>
<text transform="matrix(0.18283,0,0,0.19155,642.337,1099.708)" font-size="100">10</text>
<text transform="matrix(0.12900,0,0,0.13714,662.768,1092.600)" font-size="100">14</text>
<text transform="matrix(0.21845,0,0,0.23239,132.957,1495.568)" font-size="100">50</text>
<text transform="matrix(0.21935,0,0,0.23239,232.248,1495.568)" font-size="100">100</text>
<text transform="matrix(0.21935,0,0,0.23239,337.620,1495.568)" font-size="100">150</text>
<text transform="matrix(0.21519,0,0,0.23239,442.870,1495.568)" font-size="100">200</text>
<text transform="matrix(0.21519,0,0,0.23239,548.242,1495.568)" font-size="100">250</text>
<text transform="matrix(0.21845,0,0,0.23239,737.757,1495.568)" font-size="100">50</text>
<text transform="matrix(0.21935,0,0,0.23239,837.048,1495.568)" font-size="100">100</text>
<text transform="matrix(0.21935,0,0,0.23239,942.420,1495.568)" font-size="100">150</text>
<text transform="matrix(0.21519,0,0,0.23239,1047.670,1495.568)" font-size="100">200</text>
<text transform="matrix(0.21519,0,0,0.23239,1153.042,1495.568)" font-size="100">250</text>
<text transform="matrix(0.24766,0,0,0.21277,306.316,1519.232)" font-size="100">r [au]</text>
<text transform="matrix(0.24766,0,0,0.21277,911.116,1519.232)" font-size="100">r [au]</text>
<text transform="matrix(0,-0.25071,0.20982,0,27.694,314.006)" font-size="100">N(H) [cm<tspan dy="-41" font-size="70">−2</tspan><tspan dy="41" font-size="100">]</tspan></text>
<text transform="matrix(0,-0.25226,0.20982,0,631.894,319.318)" font-size="100">N(H<tspan dy="15" font-size="70">2</tspan><tspan dy="-15" font-size="100">) [cm</tspan><tspan dy="-41" font-size="70">−2</tspan><tspan dy="41" font-size="100">]</tspan></text>
<text transform="matrix(0,-0.24947,0.20982,0,27.794,834.796)" font-size="100">N(CO) [cm<tspan dy="-41" font-size="70">−2</tspan><tspan dy="41" font-size="100">]</tspan></text>
<text transform="matrix(0,-0.24866,0.20982,0,631.894,834.189)" font-size="100">N(CS) [cm<tspan dy="-41" font-size="70">−2</tspan><tspan dy="41" font-size="100">]</tspan></text>
<text transform="matrix(0,-0.25044,0.20982,0,27.794,1324.504)" font-size="100">N(CN) [cm<tspan dy="-41" font-size="70">−2</tspan><tspan dy="41" font-size="100">]</tspan></text>
<text transform="matrix(0,-0.24135,0.20982,0,631.694,1333.331)" font-size="100">N(H<tspan dy="15" font-size="70">2</tspan><tspan dy="-15" font-size="100">CO) [cm</tspan><tspan dy="-41" font-size="70">−2</tspan><tspan dy="41" font-size="100">]</tspan></text>
<text transform="matrix(0.36071,0,0,0.37101,84.414,487.800)" font-size="100">H</text>
<text transform="matrix(0.36900,0,0,0.36548,688.948,487.518)" font-size="100">H<tspan dy="15" font-size="70">2</tspan></text>
<text transform="matrix(0.34357,0,0,0.37465,84.982,1000.525)" font-size="100">CO</text>
<text transform="matrix(0.33566,0,0,0.37465,689.622,1000.525)" font-size="100">CS</text>
<text transform="matrix(0.34427,0,0,0.37465,84.979,1465.525)" font-size="100">CN</text>
<text transform="matrix(0.36452,0,0,0.36941,688.684,1465.159)" font-size="100">H<tspan dy="15" font-size="70">2</tspan><tspan dy="-15" font-size="100">CO</tspan></text>
<text transform="matrix(0.21098,0,0,0.21735,1018.512,39.597)" font-size="100">HUV-LH-T<tspan dy="13" font-size="78">g</tspan></text>
<text transform="matrix(0.20744,0,0,0.21807,1018.540,74.247)" font-size="100">HUV-LH-T<tspan dy="13" font-size="78">a</tspan></text>
<text transform="matrix(0.20786,0,0,0.21905,1018.537,106.133)" font-size="100">HUV-B14-T<tspan dy="13" font-size="78">a</tspan></text>
<text transform="matrix(0.20857,0,0,0.22286,1018.531,138.177)" font-size="100">M-HUV-LH</text>
<text transform="matrix(0.20803,0,0,0.21549,1018.536,169.785)" font-size="100">M-HUV-B14</text>
<text transform="matrix(0.20914,0,0,0.21429,1018.554,201.500)" font-size="100">Set-HUV-B14-T<tspan dy="13" font-size="78">a</tspan></text>
</svg>
</body></html>
